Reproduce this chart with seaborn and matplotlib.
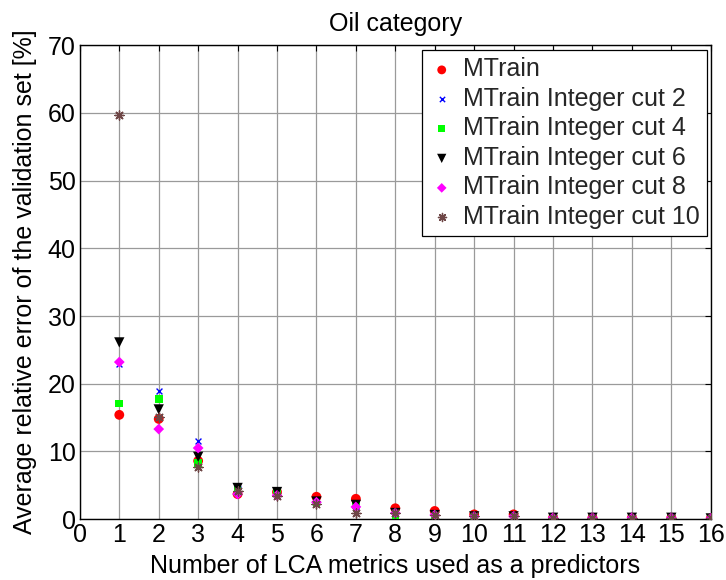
import matplotlib
matplotlib.use("Agg")
import matplotlib.pyplot as plt
import seaborn as sns
import pandas as pd

# Number of predictors (x) and average relative error [%] per model variant
n_metrics = list(range(1, 17))

mtrain = [15.4, 14.8, 8.6, 3.7, 4.0, 3.3, 3.0, 1.6, 1.2, 0.7, 0.7, 0.2, 0.2, 0.2, 0.2, 0.1]
cut2 = [22.9, 18.9, 11.5, 4.4, 3.8, 2.5, 1.8, 0.9, 0.6, 0.4, 0.4, 0.2, 0.2, 0.2, 0.2, 0.1]
cut4 = [17.1, 17.7, 8.3, 4.6, 4.0, 2.5, 2.0, 0.6, 0.5, 0.4, 0.3, 0.2, 0.2, 0.2, 0.2, 0.1]
cut6 = [26.1, 16.2, 9.2, 4.6, 4.0, 2.6, 2.1, 0.9, 0.6, 0.4, 0.4, 0.2, 0.2, 0.2, 0.2, 0.1]
cut8 = [23.2, 13.3, 10.5, 3.7, 3.5, 2.5, 1.8, 0.9, 0.6, 0.4, 0.4, 0.2, 0.2, 0.2, 0.2, 0.1]
cut10 = [59.7, 15.1, 7.7, 4.1, 3.4, 2.2, 0.9, 0.9, 0.6, 0.4, 0.4, 0.2, 0.2, 0.2, 0.2, 0.1]

series_names = ["MTrain", "MTrain Integer cut 2", "MTrain Integer cut 4",
                "MTrain Integer cut 6", "MTrain Integer cut 8", "MTrain Integer cut 10"]
series_values = [mtrain, cut2, cut4, cut6, cut8, cut10]

x_ticks = list(range(0, 17))
y_ticks = list(range(0, 71, 10))

# marker, colour, size, edge width for each series
styles = [
    ("o", "#ff0000", 50, 0.0),
    ("x", "#0000ff", 18, 1.0),
    ("s", "#00ff00", 30, 0.0),
    ("v", "#000000", 55, 0.0),
    ("D", "#ff00ff", 30, 0.0),
    ((8, 2, 0), "#6e4646", 42, 1.0),
]

sns.set_theme(style="white")
plt.rcParams["font.family"] = ["Liberation Sans", "DejaVu Sans"]

FS = 18

fig = plt.figure(figsize=(7.26, 5.8), dpi=100)
ax = fig.add_axes([0.110, 0.105, 0.869, 0.817])

for name, vals, (mk, col, sz, lw) in zip(series_names, series_values, styles):
    df = pd.DataFrame({"n": n_metrics, "err": vals})
    if lw > 0:
        sns.scatterplot(data=df, x="n", y="err", ax=ax, marker=mk, color=col,
                        s=sz, linewidth=lw, label=name, zorder=3)
    else:
        sns.scatterplot(data=df, x="n", y="err", ax=ax, marker=mk, color=col,
                        s=sz, edgecolor="none", linewidth=0, label=name, zorder=3)

ax.set_xlim(0, 16)
ax.set_ylim(0, 70)
ax.set_xticks(x_ticks)
ax.set_yticks(y_ticks)
ax.grid(True, color="#9a9a9a", linewidth=0.9, linestyle="-")
ax.set_axisbelow(True)
for sp in ax.spines.values():
    sp.set_color("black")
    sp.set_linewidth(1.0)
ax.tick_params(direction="in", length=4, width=0.8, top=True, right=True,
               labelsize=FS, colors="black", pad=3)
ax.set_xlabel("Number of LCA metrics used as a predictors", fontsize=FS,
              color="black", labelpad=5)
ax.set_ylabel("Average relative error of the validation set [%]", fontsize=FS,
              color="black", labelpad=8)
ax.set_title("Oil category", fontsize=FS, color="black", pad=10)

leg = ax.legend(loc="upper right", bbox_to_anchor=(0.994, 0.989), fontsize=FS,
                frameon=True, fancybox=False, edgecolor="black", framealpha=1,
                borderaxespad=0, handlelength=1.0, handletextpad=0.36,
                labelspacing=0.22, borderpad=0.28, markerscale=0.9)
leg.get_frame().set_linewidth(0.9)

fig.savefig("out.png", dpi=100)
